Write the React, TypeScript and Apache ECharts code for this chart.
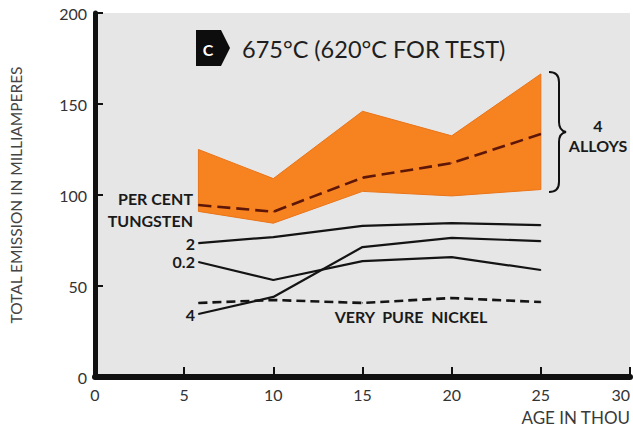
import React, { useEffect, useRef } from "react";
import * as echarts from "echarts";

const xs = [5.8, 10, 15, 20, 25];
const bandTop = [125, 109, 146, 132.5, 166.5];
const bandBottom = [91, 84.5, 102, 99.5, 103];
const commercialNickel = [94.5, 90.8, 109.5, 117.5, 133.5];
const tungsten2 = [73.6, 76.9, 83, 84.6, 83.5];
const tungsten02 = [63.2, 53.3, 63.7, 65.9, 58.8];
const tungsten4 = [34.6, 44, 71.4, 76.4, 74.7];
const veryPureNickel = [40.7, 42.3, 40.7, 43.4, 41.2];
const xTicks = [0, 5, 10, 15, 20, 25, 30];
const yTicks = [0, 50, 100, 150, 200];

const braceD =
  "M549 72 C556 72 559 75 559 82 L559 122 C559 128 561 131 566 132 C561 133 559 136 559 142 L559 182 C559 189 556 192 549 192";
echarts.graphic.registerShape("brace", echarts.graphic.extendPath(braceD, {}));

const FONT = "Lato";

function lineSeries(name: string, vals: number[], startLabel: string | null, dashed: boolean, color: string, width: number, dash?: number[]) {
  return {
    name,
    type: "line",
    symbol: "circle",
    symbolSize: 1,
    itemStyle: { color },
    lineStyle: { color, width, type: dashed ? (dash || [9, 5]) : "solid" },
    z: 5,
    data: vals.map((v, i) =>
      i === 0 && startLabel
        ? {
            value: [xs[i], v],
            label: {
              show: true,
              position: "left",
              distance: 3,
              formatter: startLabel,
              fontFamily: FONT,
              fontWeight: "bold",
              fontSize: 16,
              color: "#1a1a1a",
            },
          }
        : [xs[i], v]
    ),
  };
}

export default function App() {
  const ref = useRef<HTMLDivElement>(null);
  useEffect(() => {
    if (!ref.current) return;
    const chart = echarts.init(ref.current, null, { renderer: "svg" });
    const option: any = {
      animation: false,
      backgroundColor: "#ffffff",
      grid: {
        left: 90,
        right: -5,
        top: 13,
        bottom: 52,
        show: true,
        backgroundColor: "#e6e6e6",
        borderWidth: 0,
      },
      xAxis: {
        type: "value",
        min: 0,
        max: 30,
        interval: 5,
        axisLine: { show: true, lineStyle: { color: "#111", width: 6 } },
        axisTick: { show: true, inside: true, length: 10, lineStyle: { color: "#111", width: 2 } },
        splitLine: { show: false },
        axisLabel: {
          margin: 9,
          fontFamily: FONT,
          fontSize: 16,
          color: "#333",
          alignMaxLabel: "right",
          formatter: (v: number) => (xTicks.includes(v) ? String(v) : ""),
        },
      },
      yAxis: {
        type: "value",
        min: 0,
        max: 200,
        interval: 50,
        name: "TOTAL EMISSION IN MILLIAMPERES",
        nameLocation: "middle",
        nameGap: 71,
        nameTextStyle: { fontFamily: FONT, fontSize: 15.5, color: "#444" },
        axisLine: { show: true, lineStyle: { color: "#111", width: 5 } },
        axisTick: { show: true, inside: true, length: 8, lineStyle: { color: "#111", width: 2 } },
        splitLine: { show: false },
        axisLabel: {
          margin: 8,
          fontFamily: FONT,
          fontSize: 16,
          color: "#333",
          formatter: (v: number) => (yTicks.includes(v) ? String(v) : ""),
        },
      },
      series: [
        {
          name: "4 alloys",
          type: "custom",
          z: 2,
          data: [[xs[0], bandTop[0]]],
          renderItem: (params: any, api: any) => {
            const pts: number[][] = [];
            xs.forEach((x, i) => pts.push(api.coord([x, bandTop[i]])));
            for (let i = xs.length - 1; i >= 0; i--) pts.push(api.coord([xs[i], bandBottom[i]]));
            return {
              type: "polygon",
              shape: { points: pts },
              style: { fill: "#f6831f", stroke: "#ea7418", lineWidth: 1 },
            };
          },
        },
        lineSeries("Commercial nickel", commercialNickel, null, true, "#5e1609", 2.6, [13, 6]),
        lineSeries("2", tungsten2, "2", false, "#141414", 2.2),
        lineSeries("0.2", tungsten02, "0.2", false, "#141414", 2.2),
        lineSeries("4", tungsten4, "4", false, "#141414", 2.2),
        lineSeries("Very pure nickel", veryPureNickel, null, true, "#141414", 2.6, [9, 5]),
      ],
      graphic: [
        {
          type: "polygon",
          shape: { points: [[196, 30], [221, 30], [230, 48], [221, 66], [196, 66]] },
          style: { fill: "#0d0d0d" },
        },
        {
          type: "text",
          x: 208,
          y: 49,
          style: {
            text: "C",
            fill: "#ffffff",
            font: `bold 16px ${FONT}`,
            textAlign: "center",
            textVerticalAlign: "middle",
          },
        },
        {
          type: "text",
          x: 242,
          y: 49,
          style: {
            text: "675°C (620°C FOR TEST)",
            fill: "#1e1e1e",
            font: `23.5px ${FONT}`,
            textAlign: "left",
            textVerticalAlign: "middle",
          },
        },
        {
          type: "text",
          x: 193,
          y: 198,
          style: { text: "PER CENT", fill: "#1a1a1a", font: `bold 16px ${FONT}`, textAlign: "right", textVerticalAlign: "middle" },
        },
        {
          type: "text",
          x: 193,
          y: 220,
          style: { text: "TUNGSTEN", fill: "#1a1a1a", font: `bold 16px ${FONT}`, textAlign: "right", textVerticalAlign: "middle" },
        },
        {
          type: "text",
          x: 420,
          y: 153,
          rotation: (10.5 * Math.PI) / 180,
          style: {
            text: "COMMERCIAL  NICKEL",
            fill: "#4a120a",
            font: `bold 15.5px ${FONT}`,
            textAlign: "center",
            textVerticalAlign: "middle",
          },
        },
        {
          type: "text",
          x: 411,
          y: 316,
          style: {
            text: "VERY  PURE  NICKEL",
            fill: "#1a1a1a",
            font: `bold 16px ${FONT}`,
            textAlign: "center",
            textVerticalAlign: "middle",
          },
        },
        {
          type: "brace",
          x: 0,
          y: 0,
          style: { stroke: "#111", lineWidth: 2, fill: "none" },
        },
        {
          type: "text",
          x: 598,
          y: 125,
          style: { text: "4", fill: "#1a1a1a", font: `bold 16px ${FONT}`, textAlign: "center", textVerticalAlign: "middle" },
        },
        {
          type: "text",
          x: 598,
          y: 145,
          style: { text: "ALLOYS", fill: "#1a1a1a", font: `bold 16px ${FONT}`, textAlign: "center", textVerticalAlign: "middle" },
        },
        {
          type: "text",
          x: 630,
          y: 417,
          style: {
            text: "AGE IN THOU",
            fill: "#3a3a3a",
            font: `17px ${FONT}`,
            textAlign: "right",
            textVerticalAlign: "middle",
          },
        },
      ],
    };
    chart.setOption(option);
    return () => chart.dispose();
  }, []);
  return <div ref={ref} style={{ position: "absolute", left: 0, top: 0, width: 633, height: 429 }} />;
}
